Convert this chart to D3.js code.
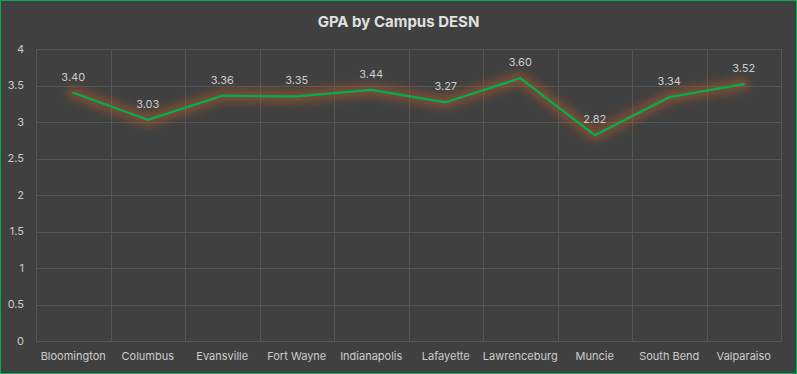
<!DOCTYPE html>
<html>
<head>
<meta charset="utf-8">
<script src="https://cdn.jsdelivr.net/npm/d3@7.9.0/dist/d3.min.js"></script>
<style>
  html, body { margin: 0; padding: 0; background: #404040; }
  svg { display: block; }
</style>
</head>
<body>
<svg id="chart" width="797" height="374"></svg>
<script>
const campuses = ["Bloomington", "Columbus", "Evansville", "Fort Wayne", "Indianapolis",
  "Lafayette", "Lawrenceburg", "Muncie", "South Bend", "Valparaiso"];
const gpa = [3.40, 3.03, 3.36, 3.35, 3.44, 3.27, 3.60, 2.82, 3.34, 3.52];
const yTicks = [0, 0.5, 1, 1.5, 2, 2.5, 3, 3.5, 4];

const data = campuses.map((c, i) => ({ campus: c, gpa: gpa[i] }));

const svg = d3.select("#chart");
const W = +svg.attr("width"), H = +svg.attr("height");
const margin = { top: 49, right: 16, bottom: 33, left: 36 };
const width = W - margin.left - margin.right;
const height = H - margin.top - margin.bottom;
const font = "Inter, 'Open Sans', sans-serif";

svg.append("rect")
  .attr("x", 0.5).attr("y", 0.5)
  .attr("width", W - 1).attr("height", H - 1)
  .attr("fill", "#404040")
  .attr("stroke", "#00b050")
  .attr("stroke-width", 1);

const defs = svg.append("defs");
const glow = defs.append("filter").attr("id", "glow")
  .attr("x", "-20%").attr("y", "-50%").attr("width", "140%").attr("height", "200%");
glow.append("feGaussianBlur").attr("stdDeviation", 4);

svg.append("text")
  .attr("x", W / 2).attr("y", 27)
  .attr("text-anchor", "middle")
  .attr("font-family", font)
  .attr("font-size", 15)
  .attr("font-weight", 700)
  .attr("fill", "#e0e0e0")
  .text("GPA by Campus DESN");

const g = svg.append("g").attr("transform", `translate(${margin.left},${margin.top})`);

const x = d3.scaleBand().domain(campuses).range([0, width]);
const y = d3.scaleLinear().domain([0, 4]).range([height, 0]);

// horizontal grid
g.selectAll(".hgrid").data(yTicks).enter().append("line")
  .attr("x1", 0).attr("x2", width)
  .attr("y1", d => Math.round(y(d)) + 0.5).attr("y2", d => Math.round(y(d)) + 0.5)
  .attr("stroke", "#565656").attr("stroke-width", 1);

// vertical grid at band edges
const edges = campuses.map(c => x(c)).concat([width]);
g.selectAll(".vgrid").data(edges).enter().append("line")
  .attr("x1", d => Math.round(d) + 0.5).attr("x2", d => Math.round(d) + 0.5)
  .attr("y1", 0).attr("y2", height)
  .attr("stroke", "#565656").attr("stroke-width", 1);

// y axis labels
g.selectAll(".ylab").data(yTicks).enter().append("text")
  .attr("x", -12).attr("y", d => y(d)).attr("dy", "0.35em")
  .attr("text-anchor", "end")
  .attr("font-family", font).attr("font-size", 11)
  .attr("fill", "#cccccc")
  .text(d => d);

// x axis labels
g.selectAll(".xlab").data(campuses).enter().append("text")
  .attr("x", d => x(d) + x.bandwidth() / 2).attr("y", height + 19)
  .attr("text-anchor", "middle")
  .attr("font-family", font).attr("font-size", 11)
  .attr("fill", "#cccccc")
  .text(d => d);

const line = d3.line()
  .x(d => x(d.campus) + x.bandwidth() / 2)
  .y(d => y(d.gpa));

g.append("path").datum(data)
  .attr("fill", "none")
  .attr("stroke", "#b85a28")
  .attr("stroke-opacity", 0.5)
  .attr("stroke-width", 12)
  .attr("stroke-linejoin", "round")
  .attr("stroke-linecap", "round")
  .attr("filter", "url(#glow)")
  .attr("d", line);

g.append("path").datum(data)
  .attr("fill", "none")
  .attr("stroke", "#00b050")
  .attr("stroke-width", 2.25)
  .attr("stroke-linejoin", "round")
  .attr("stroke-linecap", "round")
  .attr("d", line);

g.selectAll(".dlab").data(data).enter().append("text")
  .attr("x", d => x(d.campus) + x.bandwidth() / 2)
  .attr("y", d => y(d.gpa) - 12)
  .attr("text-anchor", "middle")
  .attr("font-family", font).attr("font-size", 11)
  .attr("fill", "#cccccc")
  .text(d => d.gpa.toFixed(2));
</script>
</body>
</html>
